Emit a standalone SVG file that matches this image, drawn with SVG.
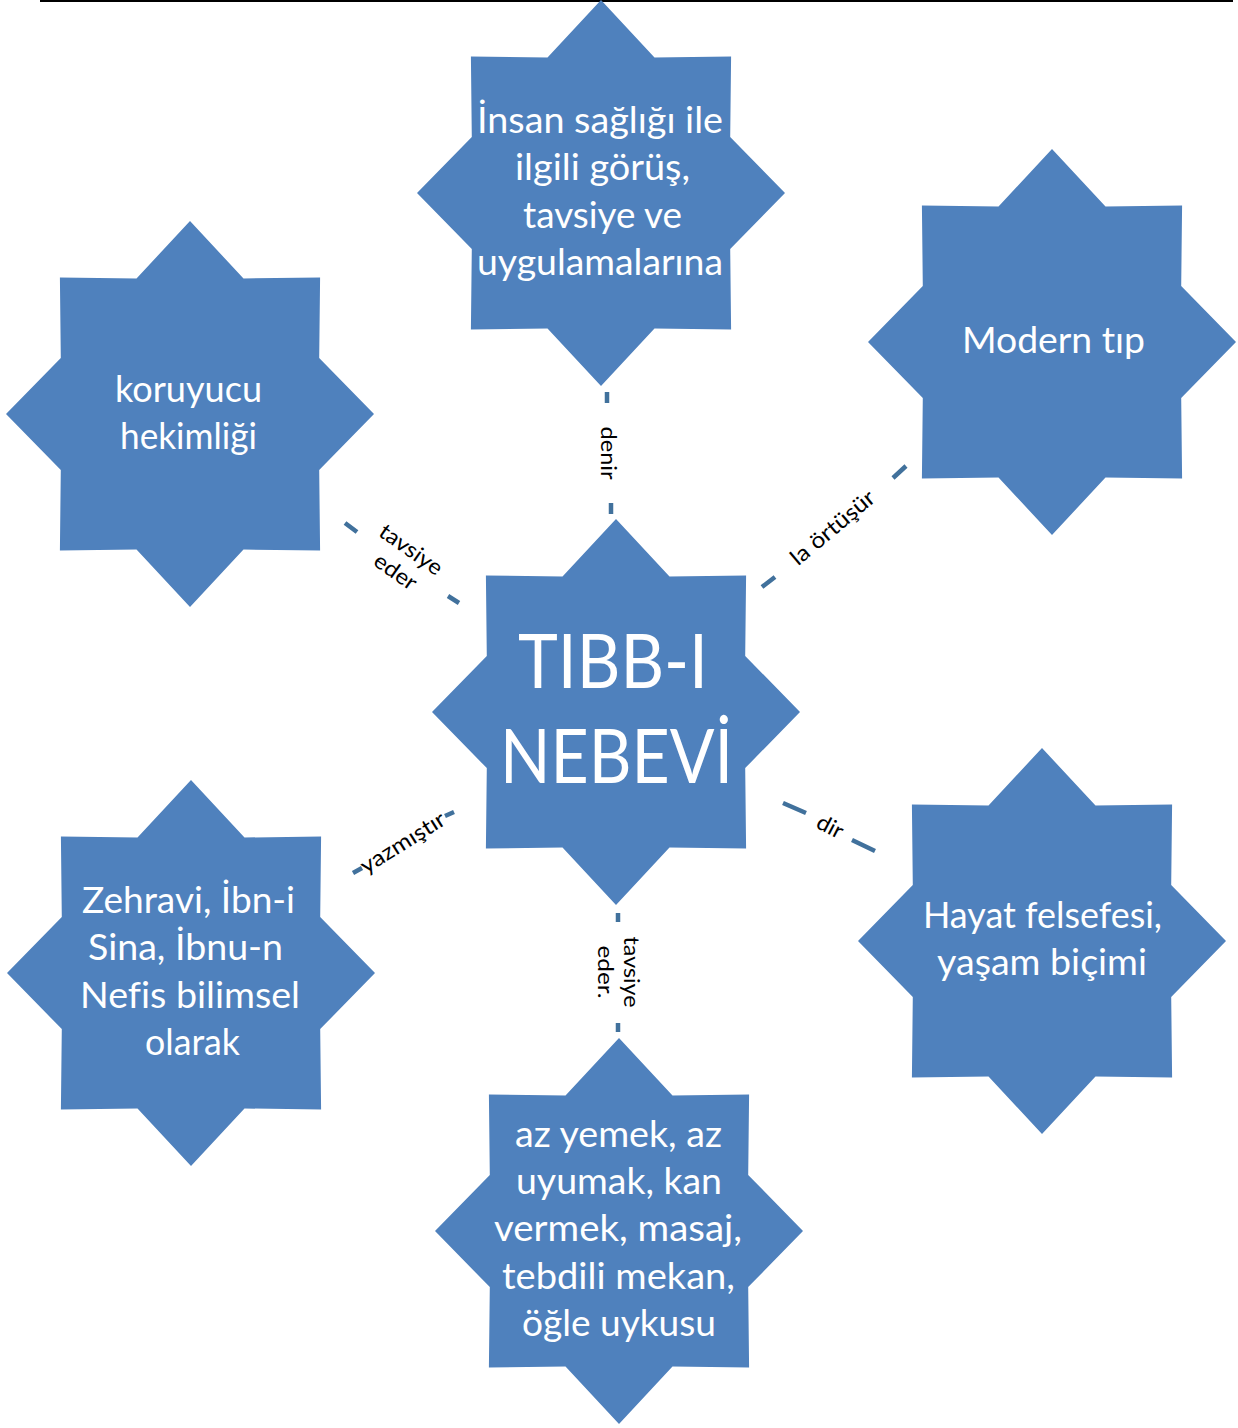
<svg xmlns="http://www.w3.org/2000/svg" xmlns:xlink="http://www.w3.org/1999/xlink" width="1238" height="1428" viewBox="0 0 1238 1428">
<style>
.star{fill:#4F81BD}
.t{fill:#fff;font-family:Lato,"Open Sans","Liberation Sans",sans-serif;font-size:36px;text-anchor:middle;font-variant-ligatures:none}
.big{font-size:75px}
.lbl{fill:#000;font-family:Lato,"Open Sans","Liberation Sans",sans-serif;font-size:22px;text-anchor:middle;font-variant-ligatures:none}
.con{stroke:#41719C;stroke-width:4.5;fill:none}
</style>
<defs>
<polygon id="star" points="0,-193 53.5,-135.5 130.1,-136.5 129.2,-56.1 184,0 129.2,56.1 130.1,136.5 53.5,135.5 0,193 -53.5,135.5 -130.1,136.5 -129.2,56.1 -184,0 -129.2,-56.1 -130.1,-136.5 -53.5,-135.5"/>
</defs>
<rect width="1238" height="1428" fill="#fff"/>
<line x1="40" y1="1" x2="1233" y2="1" stroke="#000" stroke-width="2"/>
<g id="connectors">
<path class="con" d="M607,392 L607,403 M611,503 L611,514"/>
<path class="con" d="M345,523 L357,532 M448,596 L459,603"/>
<path class="con" d="M762,587 L775,577 M893,478 L906,466"/>
<path class="con" d="M353,873 L362,868 M445,816 L454,812"/>
<path class="con" d="M783,803 L806,813 M852,840 L875,851"/>
<path class="con" d="M618,913 L618,922 M618,1023 L618,1032"/>
<text class="lbl" transform="translate(608,453) rotate(90)" y="7" textLength="53" lengthAdjust="spacingAndGlyphs">denir</text>
<g transform="translate(403,561) rotate(35)">
<text class="lbl" y="-6.5" textLength="72" lengthAdjust="spacingAndGlyphs">tavsiye</text>
<text class="lbl" y="20.5" textLength="47" lengthAdjust="spacingAndGlyphs">eder</text>
</g>
<text class="lbl" transform="translate(833,528) rotate(-40)" y="7" textLength="103" lengthAdjust="spacingAndGlyphs">la örtüşür</text>
<text class="lbl" transform="translate(403,843) rotate(-32)" y="7" textLength="96" lengthAdjust="spacingAndGlyphs">yazmıştır</text>
<text class="lbl" transform="translate(830,827) rotate(27.5)" y="7" textLength="27" lengthAdjust="spacingAndGlyphs">dir</text>
<g transform="translate(618,972) rotate(90)">
<text class="lbl" y="-6" textLength="71" lengthAdjust="spacingAndGlyphs">tavsiye</text>
<text class="lbl" y="20" textLength="53" lengthAdjust="spacingAndGlyphs">eder.</text>
</g>
</g>
<g id="node-center">
<use href="#star" xlink:href="#star" class="star" x="616" y="712"/>
<text class="t big" x="613" y="688" textLength="190" lengthAdjust="spacingAndGlyphs">TIBB-I</text>
<text class="t big" x="616.5" y="783" textLength="233" lengthAdjust="spacingAndGlyphs">NEBEVİ</text>
</g>
<g id="node-insan">
<use href="#star" xlink:href="#star" class="star" x="601" y="193"/>
<text class="t" x="600" y="133" textLength="246" lengthAdjust="spacingAndGlyphs">İnsan sağlığı ile</text>
<text class="t" x="602.5" y="180" textLength="175" lengthAdjust="spacingAndGlyphs">ilgili görüş,</text>
<text class="t" x="602.5" y="228" textLength="159" lengthAdjust="spacingAndGlyphs">tavsiye ve</text>
<text class="t" x="600" y="275" textLength="246" lengthAdjust="spacingAndGlyphs">uygulamalarına</text>
</g>
<g id="node-modern">
<use href="#star" xlink:href="#star" class="star" x="1052" y="342"/>
<text class="t" x="1053.5" y="353" textLength="183" lengthAdjust="spacingAndGlyphs">Modern tıp</text>
</g>
<g id="node-koruyucu">
<use href="#star" xlink:href="#star" class="star" x="190" y="414"/>
<text class="t" x="188.5" y="402" textLength="147" lengthAdjust="spacingAndGlyphs">koruyucu</text>
<text class="t" x="188.5" y="449" textLength="137" lengthAdjust="spacingAndGlyphs">hekimliği</text>
</g>
<g id="node-zehravi">
<use href="#star" xlink:href="#star" class="star" x="191" y="973"/>
<text class="t" x="188.5" y="913" textLength="213" lengthAdjust="spacingAndGlyphs">Zehravi, İbn-i</text>
<text class="t" x="185.5" y="960" textLength="195" lengthAdjust="spacingAndGlyphs">Sina, İbnu-n</text>
<text class="t" x="190" y="1008" textLength="220" lengthAdjust="spacingAndGlyphs">Nefis bilimsel</text>
<text class="t" x="192.5" y="1055" textLength="95" lengthAdjust="spacingAndGlyphs">olarak</text>
</g>
<g id="node-hayat">
<use href="#star" xlink:href="#star" class="star" x="1042" y="941"/>
<text class="t" x="1042.5" y="928" textLength="239" lengthAdjust="spacingAndGlyphs">Hayat felsefesi,</text>
<text class="t" x="1042" y="975" textLength="210" lengthAdjust="spacingAndGlyphs">yaşam biçimi</text>
</g>
<g id="node-azyemek">
<use href="#star" xlink:href="#star" class="star" x="619" y="1231"/>
<text class="t" x="618.5" y="1147" textLength="207" lengthAdjust="spacingAndGlyphs">az yemek, az</text>
<text class="t" x="619" y="1194" textLength="206" lengthAdjust="spacingAndGlyphs">uyumak, kan</text>
<text class="t" x="618" y="1241" textLength="248" lengthAdjust="spacingAndGlyphs">vermek, masaj,</text>
<text class="t" x="618.5" y="1289" textLength="233" lengthAdjust="spacingAndGlyphs">tebdili mekan,</text>
<text class="t" x="619" y="1336" textLength="194" lengthAdjust="spacingAndGlyphs">öğle uykusu</text>
</g>
</svg>
